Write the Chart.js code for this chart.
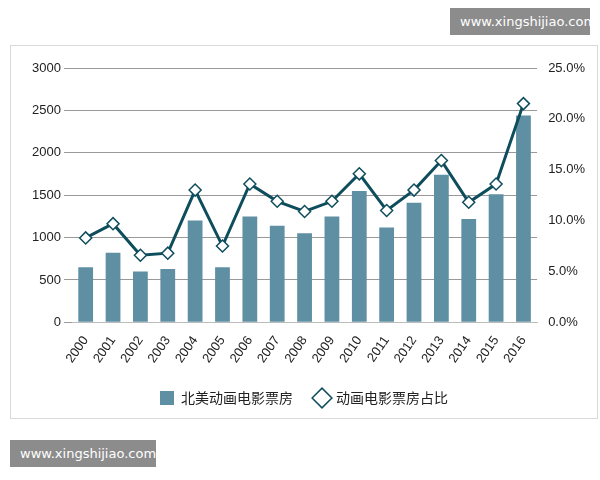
<!DOCTYPE html>
<html><head><meta charset="utf-8">
<script src="https://cdn.jsdelivr.net/npm/chart.js@4"></script>
<style>
body{margin:0;background:#fff;font-family:"Noto Sans CJK SC",sans-serif;}
#frame{position:absolute;left:10px;top:45px;width:586px;height:372px;border:1px solid #d9d9d9;}
#wrap{position:absolute;left:10px;top:50px;width:586px;height:365px;}
.wm{position:absolute;background:#8c8c8c;color:#fff;font:13px "DejaVu Sans",sans-serif;padding:6px 10px;}
</style></head><body>
<div id="frame"></div>
<div id="wrap"><canvas id="c"></canvas></div>
<div class="wm" style="right:10px;top:8px;width:120px;text-align:center">www.xingshijiao.com</div>
<div class="wm" style="left:10px;top:440px;width:126px;text-align:center">www.xingshijiao.com</div>
<script>
const years=['2000','2001','2002','2003','2004','2005','2006','2007','2008','2009','2010','2011','2012','2013','2014','2015','2016'];
const boxOffice=[650,820,600,630,1200,650,1250,1140,1050,1250,1550,1120,1410,1740,1220,1510,2440];
const share=[8.3,9.7,6.6,6.8,13.0,7.5,13.6,11.9,10.9,11.9,14.6,11.0,13.0,15.9,11.8,13.6,21.5];
new Chart(document.getElementById('c'),{
 data:{labels:years,datasets:[
  {type:'line',label:'动画电影票房占比',data:share,yAxisID:'y1',borderColor:'#0e4d5c',borderWidth:3,pointStyle:'rectRot',pointRadius:6,pointBackgroundColor:'#fff',pointBorderColor:'#0e4d5c',pointBorderWidth:1.5,order:0},
  {type:'bar',label:'北美动画电影票房',data:boxOffice,yAxisID:'y',backgroundColor:'#5e8fa3',categoryPercentage:0.9,barPercentage:0.6,order:1,pointStyle:'rect'}
 ]},
 options:{responsive:true,maintainAspectRatio:false,animation:false,
  layout:{padding:{left:10,right:8,top:18,bottom:0}},
  plugins:{legend:{position:'bottom',reverse:true,labels:{usePointStyle:true,font:{size:14,family:'Noto Sans CJK SC'},color:'#222',padding:22}}},
  scales:{
   x:{grid:{display:false},border:{color:'#bbb'},ticks:{color:'#222',font:{size:13},maxRotation:55,minRotation:55}},
   y:{min:0,max:3000,afterFit:a=>{a.width=52},ticks:{stepSize:500,color:'#222',font:{size:13},callback:v=>String(v)},grid:{color:'#999'},border:{display:false}},
   y1:{position:'right',min:0,max:25,ticks:{stepSize:5,color:'#222',font:{size:13},callback:v=>v.toFixed(1)+'%'},grid:{display:false},border:{display:false}}
  }}
});
</script></body></html>
